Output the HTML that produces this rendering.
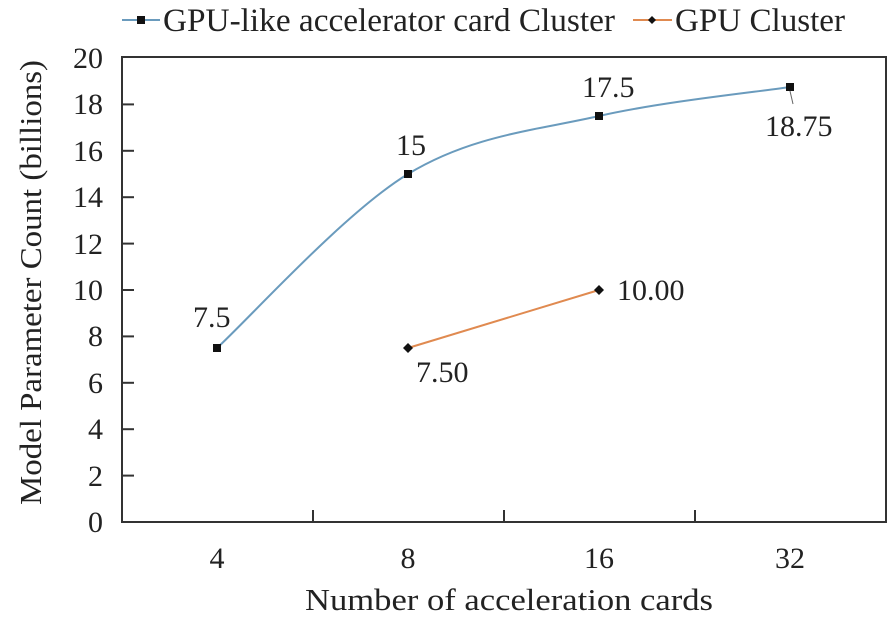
<!DOCTYPE html>
<html><head><meta charset="utf-8"><style>html,body{margin:0;padding:0;background:#fff}svg{display:block}svg text{font-family:"Liberation Serif","Times New Roman",serif}</style></head>
<body>
<svg width="888" height="622" xmlns="http://www.w3.org/2000/svg" fill="#222">
<rect x="122" y="57" width="764" height="465" fill="none" stroke="#333" stroke-width="2"/>
<g stroke="#333" stroke-width="2">
<line x1="122" y1="475.6" x2="134" y2="475.6"/><line x1="122" y1="429.2" x2="134" y2="429.2"/>
<line x1="122" y1="382.8" x2="134" y2="382.8"/><line x1="122" y1="336.4" x2="134" y2="336.4"/>
<line x1="122" y1="290" x2="134" y2="290"/><line x1="122" y1="243.6" x2="134" y2="243.6"/>
<line x1="122" y1="197.2" x2="134" y2="197.2"/><line x1="122" y1="150.8" x2="134" y2="150.8"/>
<line x1="122" y1="104.4" x2="134" y2="104.4"/>
<line x1="313" y1="522" x2="313" y2="510"/><line x1="504" y1="522" x2="504" y2="510"/><line x1="695" y1="522" x2="695" y2="510"/>
</g>
<g font-size="30" text-anchor="end">
<text x="103" y="532">0</text><text x="103" y="486">2</text><text x="103" y="439">4</text><text x="103" y="393">6</text>
<text x="103" y="346">8</text><text x="103" y="300">10</text><text x="103" y="254">12</text><text x="103" y="207">14</text>
<text x="103" y="161">16</text><text x="103" y="114">18</text><text x="103" y="68">20</text>
</g>
<g font-size="30" text-anchor="middle">
<text x="217" y="568">4</text><text x="408" y="568">8</text><text x="599" y="568">16</text><text x="790" y="568">32</text>
</g>
<text x="305" y="610" font-size="31" textLength="408" lengthAdjust="spacingAndGlyphs">Number of acceleration cards</text>
<text transform="translate(41,505) rotate(-90)" font-size="31" textLength="445" lengthAdjust="spacingAndGlyphs">Model Parameter Count (billions)</text>
<path d="M217,348 C248.8,319 344.3,212.7 408,174 C471.7,135.3 535.3,130.5 599,116 C662.7,101.5 758.2,91.8 790,87" fill="none" stroke="#6a9bbd" stroke-width="2"/>
<line x1="408" y1="348" x2="599" y2="290" stroke="#e08a50" stroke-width="2"/>
<g fill="#111">
<rect x="213" y="344" width="8" height="8"/><rect x="404" y="170" width="8" height="8"/>
<rect x="595" y="112" width="8" height="8"/><rect x="786" y="83" width="8" height="8"/>
<path d="M408,343 l5,5 -5,5 -5,-5z"/><path d="M599,285 l5,5 -5,5 -5,-5z"/>
</g>
<line x1="790" y1="91" x2="793" y2="104" stroke="#666" stroke-width="1"/>
<g font-size="30">
<text x="193" y="327">7.5</text><text x="396" y="155">15</text><text x="582" y="97">17.5</text>
<text x="765" y="136">18.75</text><text x="617" y="300">10.00</text><text x="416" y="382">7.50</text>
</g>
<line x1="122" y1="20" x2="160" y2="20" stroke="#6a9bbd" stroke-width="2"/>
<rect x="137" y="16" width="8" height="8" fill="#111"/>
<text x="163" y="31" font-size="33" textLength="452" lengthAdjust="spacingAndGlyphs">GPU-like accelerator card Cluster</text>
<line x1="633" y1="20" x2="672" y2="20" stroke="#e08a50" stroke-width="2"/>
<path d="M652,16 l4,4 -4,4 -4,-4z" fill="#111"/>
<text x="675" y="31" font-size="33" textLength="170" lengthAdjust="spacingAndGlyphs">GPU Cluster</text>
</svg>
</body></html>
